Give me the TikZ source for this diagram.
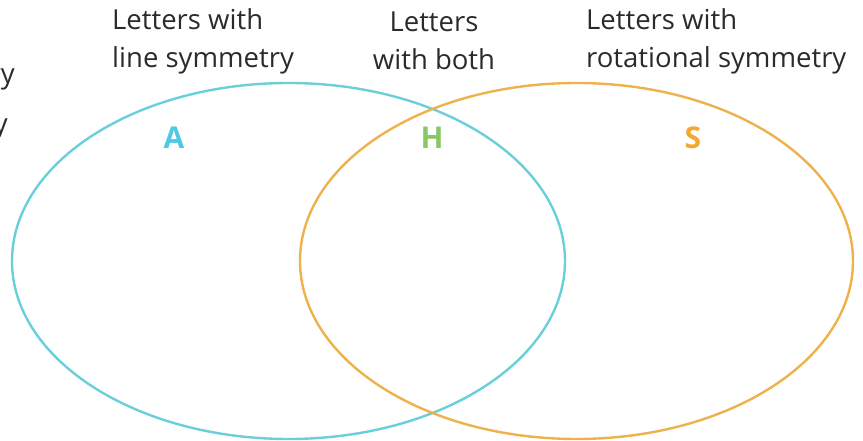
\documentclass[tikz,border=0pt]{standalone}
\usepackage{fontspec}
\setmainfont{Open Sans}
\definecolor{cyanline}{HTML}{6ACFDB}
\definecolor{orangeline}{HTML}{EDB24B}
\definecolor{cyantext}{HTML}{4FC9E3}
\definecolor{greentext}{HTML}{86C864}
\definecolor{orangetext}{HTML}{F5A733}
\definecolor{labeltext}{HTML}{2B2B2B}
\begin{document}
\begin{tikzpicture}[x=1pt,y=-1pt,
  setlabel/.style={text=labeltext,font=\fontsize{27.5}{38}\selectfont,inner sep=0pt},
  elem/.style={font=\fontsize{30}{32}\selectfont\bfseries,inner sep=0pt},
  setring/.style={line width=2.4pt}]
\useasboundingbox (0,0) rectangle (863,441);
\clip (0,0) rectangle (863,441);
\draw[setring,cyanline] (288.5,261) ellipse [x radius=276.5, y radius=178];
\draw[setring,orangeline] (576.5,261) ellipse [x radius=276.5, y radius=178];
\node[setlabel,anchor=west,align=left] (tl) at (112,41) {Letters with\\line symmetry};
\node[setlabel,align=center] (tm) at (434,41) {Letters\\with both};
\node[setlabel,anchor=west,align=left] (tr) at (586,41) {Letters with\\rotational symmetry};
\node[setlabel,anchor=east] (c1) at (15,78) {symmetry};
\node[setlabel,anchor=east] (c2) at (8,128) {symmetry};
\node[elem,text=cyantext] (a) at (174,138) {A};
\node[elem,text=greentext] (h) at (432,138) {H};
\node[elem,text=orangetext] (s) at (693,138) {S};
\end{tikzpicture}
\end{document}
